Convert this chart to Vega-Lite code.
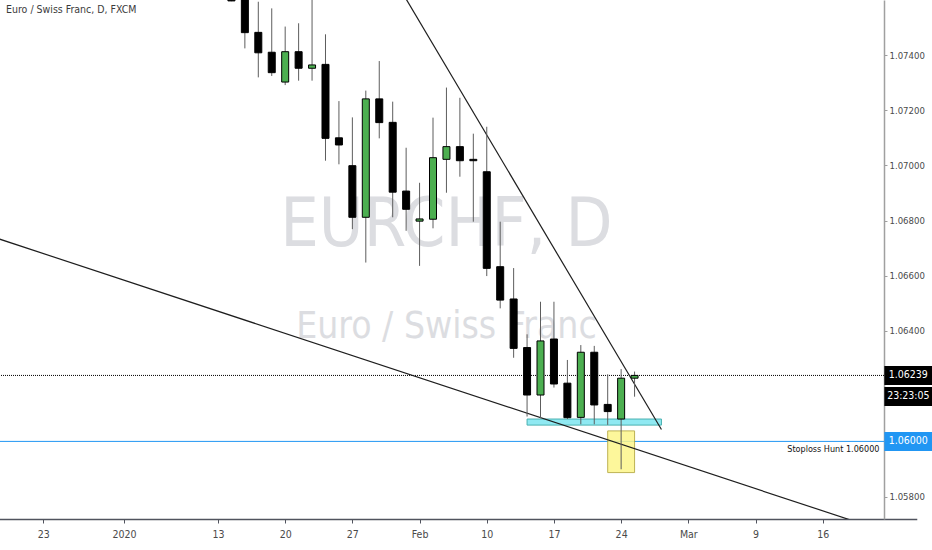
{
  "$schema": "https://vega.github.io/schema/vega-lite/v6.json",
  "width": 884,
  "height": 519,
  "autosize": {"type": "none"},
  "padding": {"left": 0, "top": 0, "right": 48, "bottom": 31},
  "background": "white",
  "config": {
    "view": {"stroke": null},
    "font": "DejaVu Sans Condensed, Liberation Sans, sans-serif"
  },
  "title": {
    "text": "Euro / Swiss Franc, D, FXCM",
    "anchor": "start",
    "frame": "group",
    "orient": "top",
    "offset": -23,
    "baseline": "alphabetic",
    "dx": 6,
    "font": "DejaVu Sans Condensed, Liberation Sans, sans-serif",
    "fontSize": 10.5,
    "fontWeight": "normal",
    "color": "#3b3b3b"
  },
  "datasets": {
    "candles": [
      {"date": "2020-01-14", "open": 1.07672, "high": 1.07708, "low": 1.07595, "close": 1.07596},
      {"date": "2020-01-15", "open": 1.07610, "high": 1.07640, "low": 1.07424, "close": 1.07481},
      {"date": "2020-01-16", "open": 1.07482, "high": 1.07593, "low": 1.07319, "close": 1.07408},
      {"date": "2020-01-17", "open": 1.07410, "high": 1.07569, "low": 1.07324, "close": 1.07336},
      {"date": "2020-01-20", "open": 1.07302, "high": 1.07503, "low": 1.07291, "close": 1.07412},
      {"date": "2020-01-21", "open": 1.07412, "high": 1.07515, "low": 1.07307, "close": 1.07352},
      {"date": "2020-01-22", "open": 1.07352, "high": 1.07636, "low": 1.07307, "close": 1.07364},
      {"date": "2020-01-23", "open": 1.07366, "high": 1.07475, "low": 1.07017, "close": 1.07098},
      {"date": "2020-01-24", "open": 1.07100, "high": 1.07233, "low": 1.07004, "close": 1.07074},
      {"date": "2020-01-27", "open": 1.06999, "high": 1.07174, "low": 1.06769, "close": 1.06812},
      {"date": "2020-01-28", "open": 1.06812, "high": 1.07271, "low": 1.06648, "close": 1.07241},
      {"date": "2020-01-29", "open": 1.07241, "high": 1.07378, "low": 1.07098, "close": 1.07155},
      {"date": "2020-01-30", "open": 1.07156, "high": 1.07231, "low": 1.06812, "close": 1.06903},
      {"date": "2020-01-31", "open": 1.06907, "high": 1.07064, "low": 1.06763, "close": 1.06841},
      {"date": "2020-02-03", "open": 1.06798, "high": 1.06937, "low": 1.06636, "close": 1.06806},
      {"date": "2020-02-04", "open": 1.06805, "high": 1.07173, "low": 1.06772, "close": 1.07028},
      {"date": "2020-02-05", "open": 1.07022, "high": 1.07282, "low": 1.06901, "close": 1.07068},
      {"date": "2020-02-06", "open": 1.07068, "high": 1.07245, "low": 1.06959, "close": 1.07017},
      {"date": "2020-02-07", "open": 1.07022, "high": 1.07115, "low": 1.06796, "close": 1.07017},
      {"date": "2020-02-10", "open": 1.06977, "high": 1.07140, "low": 1.06599, "close": 1.06627},
      {"date": "2020-02-11", "open": 1.06633, "high": 1.06796, "low": 1.06482, "close": 1.06512},
      {"date": "2020-02-12", "open": 1.06516, "high": 1.06628, "low": 1.06303, "close": 1.06337},
      {"date": "2020-02-13", "open": 1.06340, "high": 1.06388, "low": 1.06090, "close": 1.06168},
      {"date": "2020-02-14", "open": 1.06168, "high": 1.06506, "low": 1.06084, "close": 1.06364},
      {"date": "2020-02-17", "open": 1.06371, "high": 1.06506, "low": 1.06195, "close": 1.06208},
      {"date": "2020-02-18", "open": 1.06211, "high": 1.06295, "low": 1.06081, "close": 1.06086},
      {"date": "2020-02-19", "open": 1.06087, "high": 1.06349, "low": 1.06062, "close": 1.06323},
      {"date": "2020-02-20", "open": 1.06323, "high": 1.06346, "low": 1.06062, "close": 1.06132},
      {"date": "2020-02-21", "open": 1.06134, "high": 1.06243, "low": 1.06060, "close": 1.06108},
      {"date": "2020-02-24", "open": 1.06081, "high": 1.06262, "low": 1.05899, "close": 1.06229},
      {"date": "2020-02-25", "open": 1.06229, "high": 1.06253, "low": 1.06162, "close": 1.06239}
    ],
    "trendlines": [
      {"line": "upper", "date": "2020-01-29", "price": 1.07767},
      {"line": "upper", "date": "2020-02-27", "price": 1.06043},
      {"line": "lower", "date": "2019-12-16", "price": 1.06761},
      {"line": "lower", "date": "2020-03-24", "price": 1.05652}
    ],
    "zones": [
      {"zone": "support", "start": "2020-02-13", "end": "2020-02-27", "low": 1.06059, "high": 1.06081},
      {"zone": "hunt", "start": "2020-02-21", "end": "2020-02-25", "low": 1.05887, "high": 1.06038}
    ],
    "levels": [
      {"level": "last", "price": 1.06239, "label": "1.06239", "timer": "23:23:05"},
      {"level": "stop", "price": 1.06, "label": "1.06000", "note": "Stoploss Hunt 1.06000"}
    ],
    "watermark": [
      {"text": "EURCHF, D", "date": "2020-02-05", "price": 1.06708, "size": "big"},
      {"text": "Euro / Swiss Franc", "date": "2020-02-05", "price": 1.06374, "size": "small"}
    ]
  },
  "encoding": {
    "x": {
      "field": "date",
      "type": "ordinal",
      "scale": {
        "type": "point",
        "padding": 0,
        "range": [-23.89, 916.77],
        "domain": [
          "2019-12-16", "2019-12-17", "2019-12-18", "2019-12-19", "2019-12-20",
          "2019-12-23", "2019-12-24", "2019-12-26", "2019-12-27", "2019-12-30", "2019-12-31",
          "2020-01-02", "2020-01-03", "2020-01-06", "2020-01-07", "2020-01-08", "2020-01-09", "2020-01-10",
          "2020-01-13", "2020-01-14", "2020-01-15", "2020-01-16", "2020-01-17",
          "2020-01-20", "2020-01-21", "2020-01-22", "2020-01-23", "2020-01-24",
          "2020-01-27", "2020-01-28", "2020-01-29", "2020-01-30", "2020-01-31",
          "2020-02-03", "2020-02-04", "2020-02-05", "2020-02-06", "2020-02-07",
          "2020-02-10", "2020-02-11", "2020-02-12", "2020-02-13", "2020-02-14",
          "2020-02-17", "2020-02-18", "2020-02-19", "2020-02-20", "2020-02-21",
          "2020-02-24", "2020-02-25", "2020-02-26", "2020-02-27", "2020-02-28",
          "2020-03-02", "2020-03-03", "2020-03-04", "2020-03-05", "2020-03-06",
          "2020-03-09", "2020-03-10", "2020-03-11", "2020-03-12", "2020-03-13",
          "2020-03-16", "2020-03-17", "2020-03-18", "2020-03-19", "2020-03-20",
          "2020-03-23", "2020-03-24", "2020-03-25"
        ]
      },
      "axis": {
        "orient": "bottom",
        "title": null,
        "grid": false,
        "labelAngle": 0,
        "values": ["2019-12-23", "2020-01-02", "2020-01-13", "2020-01-20", "2020-01-27", "2020-02-03", "2020-02-10", "2020-02-17", "2020-02-24", "2020-03-02", "2020-03-09", "2020-03-16"],
        "labelExpr": "datum.value == '2020-01-02' ? '2020' : datum.value == '2020-02-03' ? 'Feb' : datum.value == '2020-03-02' ? 'Mar' : '' + toNumber(substring(datum.value, 8, 10))",
        "labelFont": "DejaVu Sans Condensed, Liberation Sans, sans-serif",
        "labelFontSize": 10.5,
        "labelColor": "#4a4a4a",
        "labelPadding": 6,
        "labelOverlap": false,
        "tickSize": 4,
        "tickColor": "#50535e",
        "domainColor": "#50535e",
        "domainWidth": 1.5
      }
    },
    "y": {
      "type": "quantitative",
      "scale": {"domain": [1.057188, 1.075993], "nice": false, "zero": false},
      "axis": {
        "orient": "right",
        "title": null,
        "grid": false,
        "values": [1.058, 1.064, 1.066, 1.068, 1.07, 1.072, 1.074],
        "format": ".5f",
        "labelFont": "DejaVu Sans Condensed, Liberation Sans, sans-serif",
        "labelFontSize": 9.5,
        "labelColor": "#4a4a4a",
        "labelPadding": 2,
        "tickSize": 3,
        "tickColor": "#9e9e9e",
        "domainColor": "#a0a0a0",
        "domainWidth": 1.5
      }
    }
  },
  "layer": [
    {
      "data": {"name": "watermark"},
      "transform": [{"filter": "datum.size == 'big'"}],
      "mark": {"type": "text", "align": "center", "baseline": "alphabetic", "fontSize": 68, "color": "#dcdde1"},
      "encoding": {
        "x": {"field": "date"},
        "y": {"field": "price", "type": "quantitative"},
        "text": {"field": "text"}
      }
    },
    {
      "data": {"name": "watermark"},
      "transform": [{"filter": "datum.size == 'small'"}],
      "mark": {"type": "text", "align": "center", "baseline": "alphabetic", "fontSize": 37, "color": "#dcdde1"},
      "encoding": {
        "x": {"field": "date"},
        "y": {"field": "price", "type": "quantitative"},
        "text": {"field": "text"}
      }
    },
    {
      "data": {"name": "levels"},
      "transform": [{"filter": "datum.level == 'stop'"}],
      "mark": {"type": "rule", "color": "#2196f3", "strokeWidth": 1},
      "encoding": {
        "x": null,
        "y": {"field": "price", "type": "quantitative"}
      }
    },
    {
      "data": {"name": "levels"},
      "transform": [{"filter": "datum.level == 'last'"}],
      "mark": {"type": "rule", "color": "#000000", "strokeWidth": 1, "strokeDash": [1, 1]},
      "encoding": {
        "x": null,
        "y": {"field": "price", "type": "quantitative"}
      }
    },
    {
      "data": {"name": "zones"},
      "mark": {"type": "rect", "strokeWidth": 1, "opacity": 0.85, "clip": true},
      "encoding": {
        "x": {"field": "start"},
        "x2": {"field": "end"},
        "y": {"field": "low", "type": "quantitative"},
        "y2": {"field": "high"},
        "fill": {"field": "zone", "type": "nominal", "scale": {"domain": ["support", "hunt"], "range": ["#7de6f0", "#fdf68a"]}, "legend": null},
        "stroke": {"field": "zone", "type": "nominal", "scale": {"domain": ["support", "hunt"], "range": ["#2aa3a3", "#b3a637"]}, "legend": null}
      }
    },
    {
      "data": {"name": "trendlines"},
      "mark": {"type": "line", "color": "#1e1e1e", "strokeWidth": 1.2, "clip": true},
      "encoding": {
        "y": {"field": "price", "type": "quantitative"},
        "detail": {"field": "line"}
      }
    },
    {
      "data": {"name": "candles"},
      "mark": {"type": "rule", "color": "#5d5d5d", "strokeWidth": 1, "clip": true},
      "encoding": {
        "y": {"field": "low", "type": "quantitative"},
        "y2": {"field": "high"}
      }
    },
    {
      "data": {"name": "candles"},
      "mark": {"type": "bar", "size": 7, "stroke": "#000000", "strokeWidth": 1, "clip": true},
      "encoding": {
        "y": {"field": "open", "type": "quantitative"},
        "y2": {"field": "close"},
        "fill": {"condition": {"test": "datum.close >= datum.open", "value": "#4caf50"}, "value": "#000000"}
      }
    },
    {
      "data": {"name": "levels"},
      "transform": [{"filter": "datum.level == 'stop'"}],
      "mark": {"type": "text", "align": "right", "baseline": "alphabetic", "dx": 3, "dy": 10.5, "fontSize": 9, "color": "#131313"},
      "encoding": {
        "x": {"datum": "2020-03-20"},
        "y": {"field": "price", "type": "quantitative"},
        "text": {"field": "note"}
      }
    },
    {
      "data": {"name": "levels"},
      "transform": [{"filter": "datum.level == 'last'"}],
      "mark": {"type": "point", "shape": "M-1,-0.396H1V0.396H-1Z", "size": 2304, "filled": true, "opacity": 1, "strokeWidth": 0, "xOffset": 5, "fill": "#000000"},
      "encoding": {
        "x": {"datum": "2020-03-24"},
        "y": {"field": "price", "type": "quantitative"}
      }
    },
    {
      "data": {"name": "levels"},
      "transform": [{"filter": "datum.level == 'stop'"}],
      "mark": {"type": "point", "shape": "M-1,-0.396H1V0.396H-1Z", "size": 2304, "filled": true, "opacity": 1, "strokeWidth": 0, "xOffset": 5, "fill": "#2196f3"},
      "encoding": {
        "x": {"datum": "2020-03-24"},
        "y": {"field": "price", "type": "quantitative"}
      }
    },
    {
      "data": {"name": "levels"},
      "transform": [{"filter": "datum.level == 'last'"}],
      "mark": {"type": "point", "shape": "M-1,-0.396H1V0.396H-1Z", "size": 2304, "filled": true, "opacity": 1, "strokeWidth": 0, "xOffset": 5, "yOffset": 21, "fill": "#000000"},
      "encoding": {
        "x": {"datum": "2020-03-24"},
        "y": {"field": "price", "type": "quantitative"}
      }
    },
    {
      "data": {"name": "levels"},
      "mark": {"type": "text", "align": "center", "baseline": "middle", "xOffset": 5, "fontSize": 10.5, "color": "white"},
      "encoding": {
        "x": {"datum": "2020-03-24"},
        "y": {"field": "price", "type": "quantitative"},
        "text": {"field": "label"}
      }
    },
    {
      "data": {"name": "levels"},
      "transform": [{"filter": "datum.level == 'last'"}],
      "mark": {"type": "text", "align": "center", "baseline": "middle", "xOffset": 5, "yOffset": 21, "fontSize": 10.5, "color": "white"},
      "encoding": {
        "x": {"datum": "2020-03-24"},
        "y": {"field": "price", "type": "quantitative"},
        "text": {"field": "timer"}
      }
    }
  ]
}
